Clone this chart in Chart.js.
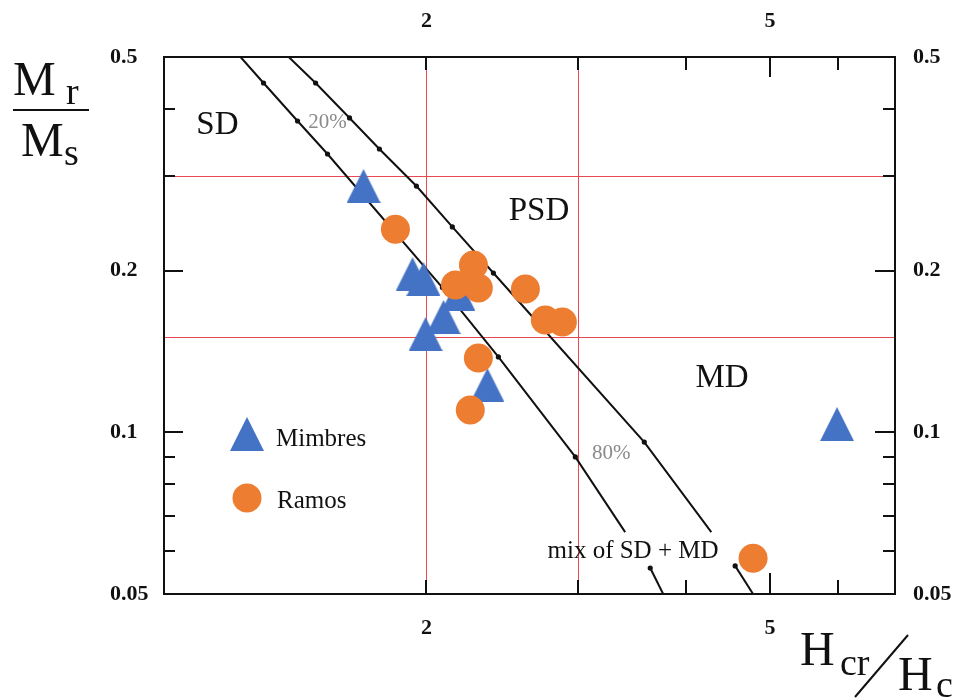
<!DOCTYPE html>
<html><head><meta charset="utf-8">
<script src="https://cdn.jsdelivr.net/npm/chart.js@4.4.1/dist/chart.umd.min.js"></script>
<style>html,body{margin:0;padding:0;background:#fff;}</style>
</head><body>
<canvas id="c" width="960" height="700"></canvas>
<script>
// ---- data (Hcr/Hc , Mr/Ms) ----
const mimbresX = [1.691, 1.927, 1.984, 2.093, 1.995, 2.178, 2.353, 5.98];
const mimbresY = [0.2875, 0.197, 0.193, 0.164, 0.1524, 0.181, 0.1225, 0.1036];
const ramosX = [1.841, 2.267, 2.297, 2.161, 2.604, 2.746, 2.874, 2.297, 2.248, 4.78];
const ramosY = [0.239, 0.205, 0.1857, 0.1881, 0.1849, 0.1619, 0.1605, 0.1376, 0.1101, 0.0583];

// SD+MD mixing curves (upper part above the label, lower part below it)
const leftCurveX = [1.218, 1.295, 1.418, 1.536, 2.087, 2.423, 2.975, 3.398];
const leftCurveY = [0.5, 0.4473, 0.380, 0.3299, 0.186, 0.1382, 0.0900, 0.0652];
const leftCurveDots = [0, 1, 1, 1, 1, 1, 1, 0];
const leftTailX = [3.633, 3.761];
const leftTailY = [0.0559, 0.05];
const leftTailDots = [1, 0];
const rightCurveX = [1.385, 1.488, 1.629, 1.764, 1.947, 2.143, 2.391, 3.576, 4.276];
const rightCurveY = [0.5, 0.4473, 0.385, 0.337, 0.2875, 0.2413, 0.198, 0.0959, 0.0652];
const rightCurveDots = [0, 1, 1, 1, 1, 1, 1, 1, 0];
const rightTailX = [4.557, 4.78];
const rightTailY = [0.0564, 0.05];
const rightTailDots = [1, 0];

// axes
const xMin = 0.993, xMax = 6.98;
const yMin = 0.05, yMax = 0.5;
const xTickValues = [2, 3, 4, 5, 6];
const xTickLabels = [2, 5];
const xLongTicks = [5];
const yTickValues = [0.05, 0.06, 0.07, 0.08, 0.09, 0.1, 0.2, 0.3, 0.4, 0.5];
const yTickLabels = [0.05, 0.1, 0.2, 0.5];
const yLongTicks = [0.1, 0.2];
const xGuides = [2, 3];
const yGuides = [0.15, 0.3];

// region / curve annotations [text, x, y]
const regionLabels = [["SD", 1.145, 0.373], ["PSD", 2.70, 0.258], ["MD", 4.40, 0.126]];
const percentLabels = [["20%", 1.536, 0.378], ["80%", 3.274, 0.0915]];
const mixLabel = ["mix of SD + MD", 3.47, 0.0601];

const BLUE = '#4472C4', ORANGE = '#ED7D31', RED = 'rgb(232,72,82)', INK = '#111';
const SERIF = "'Liberation Serif', 'DejaVu Serif', serif";

function zip(xs, ys) { return xs.map((x, i) => ({x: x, y: ys[i]})); }
function triCanvas(w, h, color) {
  const c = document.createElement('canvas'); c.width = w; c.height = h;
  const g = c.getContext('2d'); g.fillStyle = color;
  g.beginPath(); g.moveTo(w / 2, 0); g.lineTo(w, h); g.lineTo(0, h); g.closePath(); g.fill();
  return c;
}
const triangle = triCanvas(34, 34, BLUE);

function curve(label, xs, ys, dots) {
  return {
    label: label, data: zip(xs, ys), showLine: true, borderColor: INK, borderWidth: 2,
    backgroundColor: INK, pointBorderWidth: 0, order: 3,
    pointRadius: c => dots[c.dataIndex] ? 2.6 : 0, tension: 0
  };
}

const tickFont = {family: SERIF, size: 22, weight: 'bold'};
const transparent = 'rgba(0,0,0,0)';

function xAxis(pos, h, pad, grid) {
  return {
    type: 'logarithmic', position: pos, min: xMin, max: xMax,
    afterBuildTicks: s => { s.ticks = xTickValues.map(v => ({value: v})); },
    afterFit: s => { s.height = h; },
    ticks: {autoSkip: false, maxRotation: 0, font: tickFont, color: INK, padding: pad,
      callback: v => xTickLabels.includes(v) ? String(v) : ''},
    grid: {display: grid, drawTicks: false, lineWidth: 1,
      color: c => (c.tick && xGuides.includes(c.tick.value)) ? RED : transparent},
    border: {display: true, color: INK, width: 2}
  };
}
function yAxis(pos, w, pad, align, grid) {
  const all = yTickValues.concat(yGuides).sort((a, b) => a - b);
  return {
    type: 'logarithmic', position: pos, min: yMin, max: yMax,
    afterBuildTicks: s => { s.ticks = all.map(v => ({value: v})); },
    afterFit: s => { s.width = w; },
    ticks: {autoSkip: false, font: tickFont, color: INK, padding: pad, crossAlign: align,
      callback: v => yTickLabels.includes(v) ? String(v) : ''},
    grid: {display: grid, drawTicks: false, lineWidth: 1,
      color: c => (c.tick && yGuides.includes(c.tick.value)) ? RED : transparent},
    border: {display: true, color: INK, width: 2}
  };
}

const overlay = {
  id: 'overlay',
  afterDraw(chart) {
    const {ctx, chartArea: a, scales} = chart;
    const xs = scales.x, ys = scales.y;
    ctx.save();
    // inward tick marks on all four sides
    ctx.strokeStyle = INK; ctx.lineWidth = 2;
    xTickValues.forEach(v => {
      const px = Math.round(xs.getPixelForValue(v));
      const len = xLongTicks.includes(v) ? 21 : 14;
      ctx.beginPath();
      ctx.moveTo(px, a.bottom); ctx.lineTo(px, a.bottom - len);
      ctx.moveTo(px, a.top); ctx.lineTo(px, a.top + len - 1);
      ctx.stroke();
    });
    yTickValues.forEach(v => {
      if (v === yMin || v === yMax) return;
      const py = Math.round(ys.getPixelForValue(v));
      const long = yLongTicks.includes(v);
      ctx.beginPath();
      ctx.moveTo(a.left, py); ctx.lineTo(a.left + (long ? 19 : 11), py);
      ctx.moveTo(a.right, py); ctx.lineTo(a.right - (long ? 20 : 12), py);
      ctx.stroke();
    });
    // region labels
    ctx.textAlign = 'center'; ctx.textBaseline = 'middle';
    ctx.fillStyle = INK; ctx.font = '33px ' + SERIF;
    regionLabels.forEach(([t, x, y]) => ctx.fillText(t, xs.getPixelForValue(x), ys.getPixelForValue(y)));
    ctx.fillStyle = '#8a8a8a'; ctx.font = '21px ' + SERIF;
    percentLabels.forEach(([t, x, y]) => ctx.fillText(t, xs.getPixelForValue(x), ys.getPixelForValue(y)));
    ctx.fillStyle = INK; ctx.font = '25px ' + SERIF;
    ctx.fillText(mixLabel[0], xs.getPixelForValue(mixLabel[1]), ys.getPixelForValue(mixLabel[2]));

    // legend (inside plot, upper-left of lower half)
    const ds = chart.data.datasets;
    const lx = a.left + 83;
    ctx.drawImage(ds[0].pointStyle, lx - 17, a.top + 360);
    ctx.beginPath(); ctx.arc(lx, a.top + 441, ds[1].pointRadius, 0, Math.PI * 2);
    ctx.fillStyle = ds[1].backgroundColor; ctx.fill();
    ctx.fillStyle = INK; ctx.font = '25px ' + SERIF; ctx.textAlign = 'left'; ctx.textBaseline = 'alphabetic';
    ctx.fillText(ds[0].label, lx + 29, a.top + 389);
    ctx.fillText(ds[1].label, lx + 30, a.top + 451);

    // axis titles
    ctx.fillStyle = INK;
    ctx.font = '48px ' + SERIF; ctx.fillText('M', 13, 95);
    ctx.font = '38px ' + SERIF; ctx.fillText('r', 66, 104);
    ctx.fillRect(13, 109, 76, 2);
    ctx.font = '48px ' + SERIF; ctx.fillText('M', 21, 156);
    ctx.font = '38px ' + SERIF; ctx.fillText('s', 64, 165);

    ctx.font = '48px ' + SERIF; ctx.fillText('H', 800, 665);
    ctx.font = '38px ' + SERIF; ctx.fillText('cr', 840, 675);
    ctx.beginPath(); ctx.moveTo(908, 635); ctx.lineTo(855, 697); ctx.stroke();
    ctx.font = '48px ' + SERIF; ctx.fillText('H', 898, 690);
    ctx.font = '38px ' + SERIF; ctx.fillText('c', 936, 697);
    ctx.restore();
  }
};

new Chart(document.getElementById('c'), {
  type: 'scatter',
  data: {
    datasets: [
      {label: 'Mimbres', data: zip(mimbresX, mimbresY), pointStyle: triangle, pointRadius: 17,
       backgroundColor: BLUE, borderColor: BLUE, order: 2},
      {label: 'Ramos', data: zip(ramosX, ramosY), pointStyle: 'circle', pointRadius: 14.5,
       backgroundColor: ORANGE, borderColor: ORANGE, borderWidth: 0, order: 1},
      curve('SD+MD mixing curve 1', leftCurveX, leftCurveY, leftCurveDots),
      curve('SD+MD mixing curve 1 (tail)', leftTailX, leftTailY, leftTailDots),
      curve('SD+MD mixing curve 2', rightCurveX, rightCurveY, rightCurveDots),
      curve('SD+MD mixing curve 2 (tail)', rightTailX, rightTailY, rightTailDots)
    ]
  },
  options: {
    responsive: false, animation: false, devicePixelRatio: 1,
    layout: {padding: {left: 110, right: 5, top: 0, bottom: 0}},
    plugins: {legend: {display: false}, tooltip: {enabled: false}},
    scales: {
      x: xAxis('bottom', 106, 21, true),
      x2: xAxis('top', 57, 22, false),
      y: yAxis('left', 54, 0, 'far', true),
      y2: yAxis('right', 60, 18, 'near', false)
    }
  },
  plugins: [overlay]
});
</script>
</body></html>
